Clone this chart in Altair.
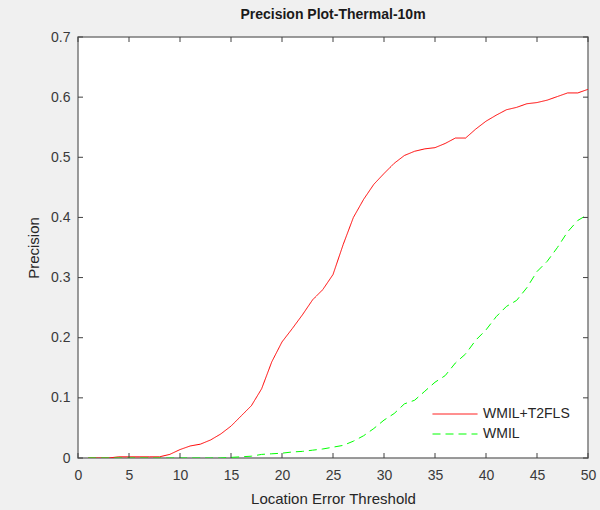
import altair as alt
import pandas as pd

thresholds = list(range(1, 51))
wmil_t2fls = [0.0, 0.0, 0.0, 0.002, 0.002, 0.002, 0.002, 0.002, 0.006, 0.014,
              0.020, 0.023, 0.030, 0.040, 0.053, 0.070, 0.087, 0.115, 0.160, 0.193,
              0.215, 0.238, 0.263, 0.280, 0.305, 0.355, 0.400, 0.430, 0.455, 0.473,
              0.490, 0.503, 0.510, 0.514, 0.516, 0.523, 0.532, 0.532, 0.547, 0.560,
              0.570, 0.579, 0.583, 0.589, 0.591, 0.595, 0.601, 0.607, 0.607, 0.613]
wmil = [0.0, 0.0, 0.0, 0.0, 0.0, 0.0, 0.0, 0.0, 0.0, 0.0,
        0.0, 0.0, 0.0, 0.0, 0.001, 0.002, 0.003, 0.006, 0.007, 0.008,
        0.010, 0.011, 0.013, 0.015, 0.018, 0.021, 0.028, 0.037, 0.049, 0.063,
        0.074, 0.090, 0.096, 0.111, 0.126, 0.137, 0.158, 0.173, 0.196, 0.213,
        0.235, 0.252, 0.262, 0.283, 0.310, 0.327, 0.350, 0.376, 0.395, 0.405]
series_names = ["WMIL+T2FLS", "WMIL"]
x_ticks = [0, 5, 10, 15, 20, 25, 30, 35, 40, 45, 50]
y_ticks = [0, 0.1, 0.2, 0.3, 0.4, 0.5, 0.6, 0.7]

W, H = 510, 421
FONT = "Liberation Sans"

rows = []
for t, a, b in zip(thresholds, wmil_t2fls, wmil):
    rows.append({"t": t, "p": a, "s": series_names[0]})
    rows.append({"t": t, "p": b, "s": series_names[1]})
df = pd.DataFrame(rows)
xt = pd.DataFrame({"t": x_ticks})
yt = pd.DataFrame({"p": y_ticks})

xscale = alt.Scale(domain=[0, 50], nice=False, zero=False)
yscale = alt.Scale(domain=[0, 0.7], nice=False)
xaxis = alt.Axis(values=x_ticks, tickSize=0, labelPadding=10, domain=False,
                 grid=False, titlePadding=9, labelFlush=False)
yaxis = alt.Axis(values=y_ticks, tickSize=0, labelPadding=8, domain=False,
                 grid=False, titlePadding=9, labelFlush=False,
                 labelExpr="datum.value == 0 ? '0' : format(datum.value, '.1f')")
X = lambda: alt.X("t:Q", scale=xscale, title="Location Error Threshold", axis=xaxis)
Y = lambda: alt.Y("p:Q", scale=yscale, title="Precision", axis=yaxis)

leg = alt.Legend(title=None, orient="none", legendX=354, legendY=369)
lines = alt.Chart(df).mark_line(strokeWidth=1, clip=True).encode(
    x=X(), y=Y(),
    color=alt.Color("s:N", scale=alt.Scale(domain=series_names, range=["#ff0000", "#00ff00"]),
                    legend=leg),
    strokeDash=alt.StrokeDash("s:N", scale=alt.Scale(domain=series_names, range=[[1, 0], [8, 5]]),
                              legend=leg),
)

tick_color = "#404040"
xb = alt.Chart(xt).mark_rule(color=tick_color, strokeWidth=1).encode(
    x=X(), y=alt.value(H), y2=alt.value(H - 5))
xtop = alt.Chart(xt).mark_rule(color=tick_color, strokeWidth=1).encode(
    x=X(), y=alt.value(0), y2=alt.value(5))
yl = alt.Chart(yt).mark_rule(color=tick_color, strokeWidth=1).encode(
    y=Y(), x=alt.value(0), x2=alt.value(5))
yr = alt.Chart(yt).mark_rule(color=tick_color, strokeWidth=1).encode(
    y=Y(), x=alt.value(W), x2=alt.value(W - 5))

chart = alt.layer(lines, xb, xtop, yl, yr).properties(
    width=W, height=H,
    title=alt.TitleParams("Precision Plot-Thermal-10m", fontSize=14, fontWeight="bold",
                          font=FONT, color="#1a1a1a", offset=8),
    autosize=alt.AutoSizeParams(type="none"),
    padding={"left": 78, "top": 37, "right": 12, "bottom": 52},
    background="#f0f0f0",
).configure_view(
    fill="white", stroke="#7a7a7a", strokeWidth=1.5
).configure_axis(
    labelFont=FONT, labelFontSize=14, labelColor="#3a3a3a",
    titleFont=FONT, titleFontSize=15, titleFontWeight="normal", titleColor="#262626",
).configure_legend(
    labelFont=FONT, labelFontSize=14, labelColor="#262626",
    symbolType="stroke", symbolSize=2025, symbolStrokeWidth=1,
    labelOffset=5, rowPadding=4, clipHeight=16, padding=0, strokeColor=None,
)

chart.save("out.html", embed_options={"renderer": "svg", "actions": False})
